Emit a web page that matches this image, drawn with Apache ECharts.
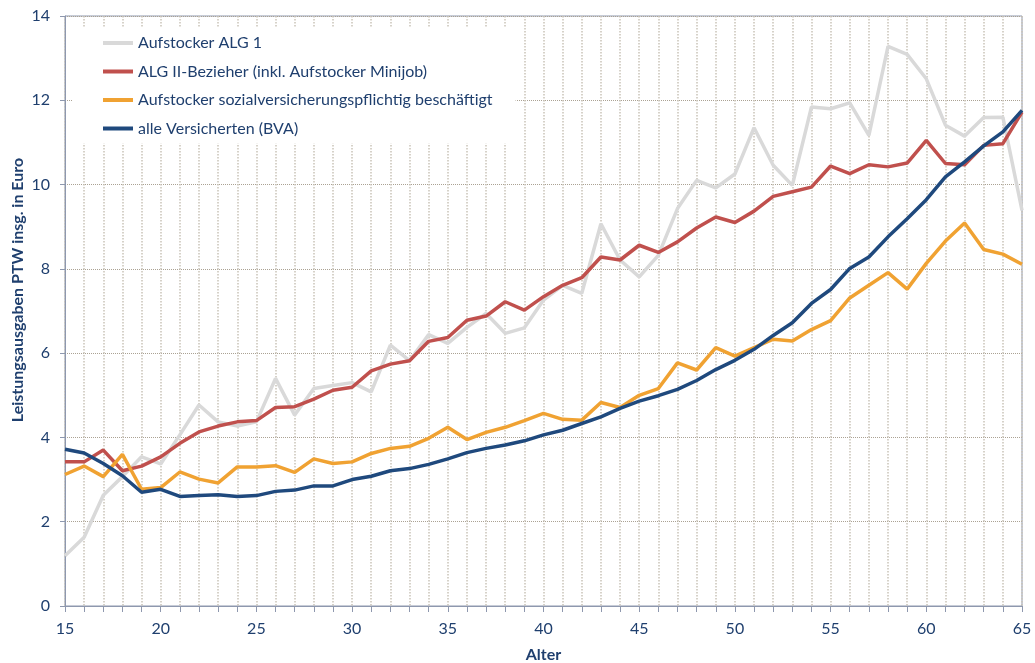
<!DOCTYPE html>
<html>
<head>
<meta charset="utf-8">
<script src="https://cdn.jsdelivr.net/npm/echarts@6/dist/echarts.min.js"></script>
<style>html,body{margin:0;padding:0;background:#fff}#c{width:1035px;height:663px}</style>
</head>
<body>
<div id="c"></div>
<script>
var ages = [];
for (var a = 15; a <= 65; a++) ages.push(String(a));

var alg1 = [1.19,1.63,2.63,3.07,3.54,3.37,4.06,4.77,4.37,4.27,4.37,5.40,4.53,5.16,5.23,5.30,5.08,6.19,5.82,6.44,6.23,6.61,6.94,6.47,6.60,7.26,7.61,7.42,9.07,8.21,7.81,8.32,9.43,10.10,9.92,10.25,11.35,10.46,9.98,11.84,11.80,11.94,11.17,13.28,13.09,12.51,11.41,11.15,11.59,11.60,9.39];
var alg2 = [3.42,3.42,3.70,3.21,3.32,3.54,3.86,4.13,4.27,4.37,4.40,4.71,4.73,4.91,5.12,5.19,5.58,5.74,5.82,6.28,6.37,6.78,6.88,7.22,7.02,7.34,7.61,7.79,8.28,8.21,8.56,8.39,8.64,8.97,9.23,9.10,9.37,9.72,9.83,9.94,10.44,10.26,10.47,10.42,10.51,11.05,10.50,10.47,10.93,10.97,11.72];
var svb = [3.12,3.32,3.07,3.60,2.77,2.81,3.18,3.01,2.92,3.30,3.30,3.33,3.17,3.49,3.38,3.42,3.62,3.74,3.79,3.98,4.24,3.95,4.12,4.24,4.40,4.57,4.43,4.41,4.83,4.71,5.00,5.16,5.77,5.60,6.13,5.93,6.13,6.33,6.29,6.56,6.77,7.31,7.61,7.91,7.52,8.13,8.66,9.09,8.46,8.35,8.11];
var bva = [3.72,3.63,3.38,3.09,2.70,2.77,2.60,2.62,2.64,2.60,2.62,2.72,2.75,2.85,2.85,3.00,3.08,3.21,3.26,3.36,3.49,3.64,3.74,3.82,3.92,4.06,4.17,4.33,4.49,4.69,4.86,4.99,5.14,5.35,5.61,5.83,6.09,6.42,6.72,7.18,7.51,8.01,8.28,8.76,9.19,9.64,10.18,10.54,10.92,11.25,11.76];

var names = ['Aufstocker ALG 1','ALG II-Bezieher (inkl. Aufstocker Minijob)','Aufstocker sozialversicherungspflichtig beschäftigt','alle Versicherten (BVA)'];
var colors = ['#D9D9D9','#C0504D','#F0A232','#1F497D'];
var series = [alg1, alg2, svb, bva];
var yTitle = 'Leistungsausgaben PTW insg. in Euro';

var font = 'Lato, "Open Sans", sans-serif';
var textColor = '#1F3F6E';
var gridColor = '#ABA293';
var vGridColor = '#C9C3B8';
var axisColor = '#8E98AE';

var chart = echarts.init(document.getElementById('c'), null, {renderer:'canvas'});
chart.setOption({
  animation: false,
  backgroundColor: '#fff',
  grid: {left: 65, right: 13, top: 16, bottom: 57, containLabel: false, outerBoundsMode: 'none', show: true, borderColor: axisColor, borderWidth: 1, backgroundColor: 'transparent'},
  legend: {
    orient: 'vertical', left: 72, top: 27,
    padding: [6, 23, 5, 31],
    backgroundColor: '#fff',
    icon: 'rect',
    itemWidth: 30, itemHeight: 4, itemGap: 8.5,
    textStyle: {fontFamily: font, fontSize: 16, color: textColor, lineHeight: 20},
    data: names
  },
  graphic: [{
    type: 'text', x: 18, y: 290, rotation: Math.PI / 2,
    style: {text: yTitle, fontFamily: font, fontSize: 16, fontWeight: 'bold', fill: textColor, align: 'center', verticalAlign: 'middle'}
  }],
  xAxis: {
    type: 'category', data: ages, boundaryGap: false,
    name: 'Alter', nameLocation: 'middle', nameGap: 41,
    nameTextStyle: {fontFamily: font, fontSize: 16, fontWeight: 'bold', color: textColor},
    axisLine: {lineStyle: {color: axisColor, width: 1}},
    axisTick: {show: true, interval: 0, length: 6, lineStyle: {color: axisColor}},
    axisLabel: {interval: 4, fontFamily: font, fontSize: 16, color: textColor, margin: 15},
    splitLine: {show: true, interval: 0, lineStyle: {color: vGridColor, type: 'dotted', width: 1.5}}
  },
  yAxis: {
    type: 'value', min: 0, max: 14, interval: 2,
    axisLine: {show: true, lineStyle: {color: axisColor, width: 1}},
    axisTick: {show: true, length: 5, lineStyle: {color: axisColor}},
    axisLabel: {fontFamily: font, fontSize: 16, color: textColor, margin: 15},
    splitLine: {show: true, lineStyle: {color: gridColor, type: 'dotted', width: 1}}
  },
  series: series.map(function (d, i) {
    return {
      name: names[i], type: 'line', data: d, symbol: 'none',
      lineStyle: {color: colors[i], width: 3.5}, itemStyle: {color: colors[i]},
      z: 2 + i
    };
  })
});
</script>
</body>
</html>
